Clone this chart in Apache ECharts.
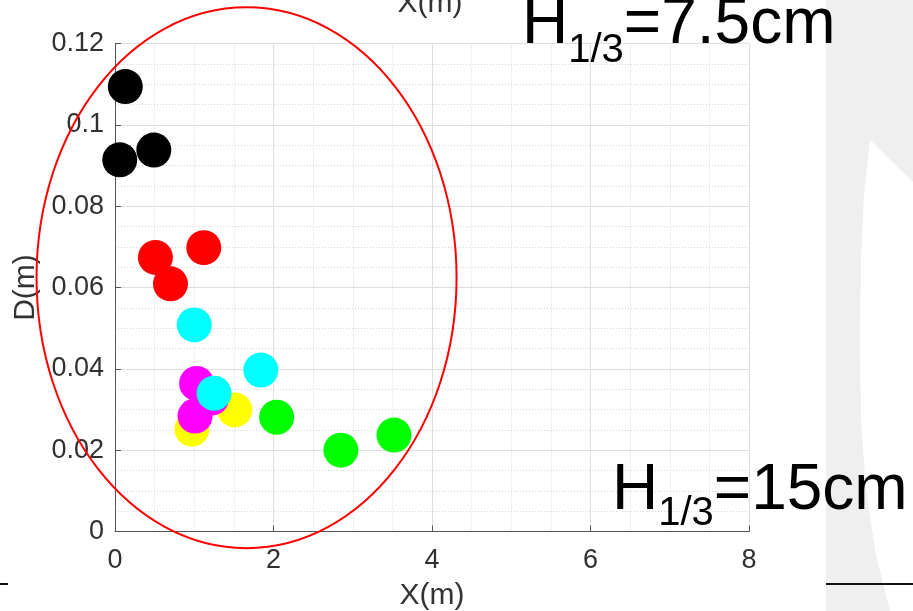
<!DOCTYPE html>
<html>
<head>
<meta charset="utf-8">
<script src="https://cdn.jsdelivr.net/npm/echarts@6/dist/echarts.min.js"></script>
<style>html,body{margin:0;padding:0;background:#fff}#c{width:913px;height:611px}</style>
</head>
<body>
<div id="c"></div>
<script>
// ---- data ----
const xTicks = [0, 2, 4, 6, 8];
const yTicks = [0, 0.02, 0.04, 0.06, 0.08, 0.1, 0.12];
const blackX = [0.13, 0.06, 0.49];
const blackY = [0.1094, 0.0914, 0.0938];
const redX = [0.51, 1.12, 0.70];
const redY = [0.0674, 0.0698, 0.0609];
const yellowX = [0.97, 1.51];
const yellowY = [0.0252, 0.0299];
const magentaX = [1.03, 1.01, 1.22];
const magentaY = [0.0364, 0.0284, 0.0328];
const cyanX = [1.00, 1.84, 1.25];
const cyanY = [0.0508, 0.0397, 0.0340];
const greenX = [2.04, 2.85, 3.52];
const greenY = [0.0281, 0.0200, 0.0237];
// ellipse annotation: center x, center y, radius x, radius y (data units)
const ellipse = [1.66, 0.0624, 2.65, 0.0665];
const xName = 'X(m)';
const yName = 'D(m)';
const label1 = ['H', '1/3', '=7.5cm'];
const label2 = ['H', '1/3', '=15cm'];

const pairs = (xs, ys) => xs.map((x, i) => [x, ys[i]]);
const FONT = '"Liberation Sans", Arial, sans-serif';

function scatter(xs, ys, color) {
  return { type: 'scatter', data: pairs(xs, ys), symbol: 'circle', symbolSize: 35,
    itemStyle: { color: color, opacity: 1 }, emphasis: { disabled: true }, silent: true };
}

const axisCommon = {
  axisLine: { show: true, lineStyle: { color: '#555', width: 1 } },
  axisTick: { show: true, inside: true, length: 6, lineStyle: { color: '#555' } },
  splitLine: { show: true, lineStyle: { color: '#dedede', width: 1 } },
  minorTick: { show: false, splitNumber: 4 },
  minorSplitLine: { show: true, lineStyle: { color: '#d4d4d4', type: [1, 2], width: 1 } },
  nameTextStyle: { fontFamily: FONT, fontSize: 30, color: '#333' }
};

const chart = echarts.init(document.getElementById('c'), null, { renderer: 'canvas' });
const option = {
  animation: false,
  backgroundColor: '#fff',
  grid: { left: 115, right: 164, top: 43.5, bottom: 79.5, containLabel: false, outerBoundsMode: 'none' },
  xAxis: Object.assign({}, axisCommon, {
    type: 'value', min: xTicks[0], max: xTicks[xTicks.length - 1], interval: xTicks[1] - xTicks[0],
    name: xName, nameLocation: 'middle', nameGap: 49,
    axisLabel: { fontFamily: FONT, fontSize: 27, color: '#303030', margin: 16 }
  }),
  yAxis: Object.assign({}, axisCommon, {
    type: 'value', min: yTicks[0], max: yTicks[yTicks.length - 1], interval: yTicks[1] - yTicks[0],
    name: yName, nameLocation: 'middle', nameGap: 69, nameRotate: 90,
    axisLabel: { fontFamily: FONT, fontSize: 27, color: '#303030', margin: 11 }
  }),
  series: [
    scatter(blackX, blackY, '#000000'),
    scatter(redX, redY, '#ff0000'),
    scatter(yellowX, yellowY, '#ffff00'),
    scatter(magentaX, magentaY, '#ff00ff'),
    scatter(cyanX, cyanY, '#00ffff'),
    scatter(greenX, greenY, '#00ff00'),
    {
      type: 'custom', data: [ellipse], clip: false, silent: true, z: 5,
      encode: { x: 0, y: 1 },
      renderItem: function (params, api) {
        const c = api.coord([api.value(0), api.value(1)]);
        const s = api.size([api.value(2), api.value(3)]);
        return { type: 'ellipse', shape: { cx: c[0], cy: c[1], rx: s[0], ry: s[1] },
          style: { fill: null, stroke: '#ff0000', lineWidth: 2 } };
      }
    }
  ],
  graphic: [
    { type: 'rect', z: -1, silent: true, shape: { x: 826, y: 0, width: 87, height: 611 }, style: { fill: '#efefef' } },
    { type: 'polygon', z: -1, silent: true, shape: { points: [[870,140],[913,182],[913,611],[890,611],[876,555],[866,490],[861,420],[860,340],[861,260],[864,195]] }, style: { fill: '#ffffff' } },
    { type: 'rect', z: 1, silent: true, shape: { x: 826, y: 583, width: 87, height: 2 }, style: { fill: '#111' } },
    { type: 'rect', z: 1, silent: true, shape: { x: 0, y: 583, width: 8, height: 2 }, style: { fill: '#111' } },
    { type: 'text', z: 100, silent: true, x: 430, y: 4, style: { text: xName, font: '30px ' + FONT, fill: '#333', align: 'center', verticalAlign: 'middle' } },
    { type: 'text', z: 100, silent: true, x: 522, y: 25.6, style: { text: label1[0], font: '64px ' + FONT, fill: '#000', align: 'left', verticalAlign: 'middle' } },
    { type: 'text', z: 100, silent: true, x: 568.2, y: 51.1, style: { text: label1[1], font: '40px ' + FONT, fill: '#000', align: 'left', verticalAlign: 'middle' } },
    { type: 'text', z: 100, silent: true, x: 623.8, y: 25.6, style: { text: label1[2], font: '64px ' + FONT, fill: '#000', align: 'left', verticalAlign: 'middle' } },
    { type: 'text', z: 100, silent: true, x: 612, y: 491.6, style: { text: label2[0], font: '64px ' + FONT, fill: '#000', align: 'left', verticalAlign: 'middle' } },
    { type: 'text', z: 100, silent: true, x: 658.2, y: 514.1, style: { text: label2[1], font: '40px ' + FONT, fill: '#000', align: 'left', verticalAlign: 'middle' } },
    { type: 'text', z: 100, silent: true, x: 713.8, y: 491.6, style: { text: label2[2], font: '64px ' + FONT, fill: '#000', align: 'left', verticalAlign: 'middle' } }
  ]
};
chart.setOption(option);
</script>
</body>
</html>
